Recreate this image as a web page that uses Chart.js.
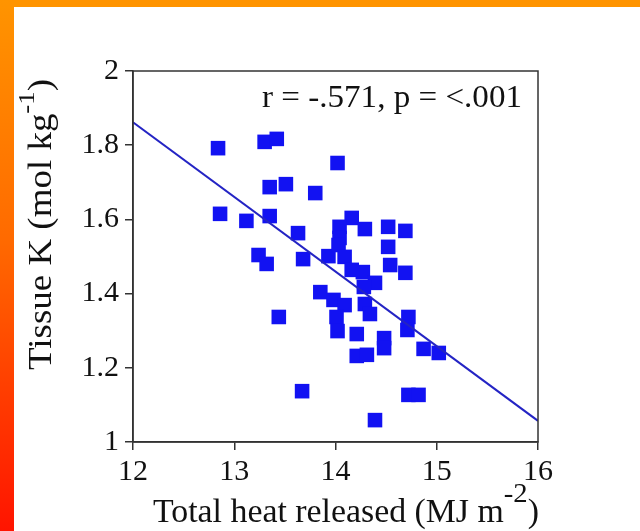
<!DOCTYPE html>
<html>
<head>
<meta charset="utf-8">
<script src="https://cdn.jsdelivr.net/npm/chart.js@4.4.1/dist/chart.umd.min.js"></script>
<style>
  html, body { margin: 0; padding: 0; background: #ffffff; }
  #wrap { position: relative; width: 640px; height: 531px; overflow: hidden; background: #ffffff; }
  #topbar { position: absolute; left: 0; top: 0; width: 640px; height: 7px; background: #FF9400; }
  #leftbar { position: absolute; left: 0; top: 0; width: 14px; height: 531px;
             background: linear-gradient(to bottom, #FF9400 0%, #FF6A00 45%, #FF1400 100%); }
  #c { position: absolute; left: 0; top: 0; }
</style>
</head>
<body>
<div id="wrap">
  <div id="topbar"></div>
  <div id="leftbar"></div>
  <canvas id="c" width="640" height="531"></canvas>
</div>
<script>
// ---- data ----
const heatReleased = [
  12.84, 12.86, 13.12, 13.24, 13.32, 13.30, 13.42, 13.35, 13.35, 13.51,
  13.44, 13.63, 13.68, 13.80, 13.85, 13.67, 14.02, 13.93, 14.16, 14.04,
  14.29, 14.52, 14.69, 14.04, 14.03, 14.09, 14.52, 14.16, 14.27, 14.54,
  14.69, 14.39, 14.28, 13.98, 14.09, 14.29, 14.01, 14.34, 14.72, 14.71,
  14.02, 14.21, 14.48, 14.48, 14.21, 14.31, 14.87, 15.02, 14.72, 14.82,
  14.39
];
const tissueK = [
  1.792, 1.615, 1.596, 1.504, 1.480, 1.809, 1.817, 1.609, 1.687, 1.695,
  1.337, 1.563, 1.493, 1.671, 1.404, 1.137, 1.752, 1.501, 1.604, 1.580,
  1.574, 1.580, 1.569, 1.550, 1.531, 1.499, 1.526, 1.464, 1.458, 1.477,
  1.456, 1.429, 1.418, 1.383, 1.369, 1.372, 1.337, 1.345, 1.337, 1.302,
  1.299, 1.291, 1.280, 1.253, 1.232, 1.235, 1.251, 1.240, 1.127, 1.127,
  1.059
];
const fitX = [12, 16];
const fitY = [1.862, 1.057];
const xTickLabels = ['12', '13', '14', '15', '16'];
const yTickLabels = ['1', '1.2', '1.4', '1.6', '1.8', '2'];
const statText = 'r = -.571, p = <.001';
const xTitleMain = 'Total heat released (MJ m';
const xTitleSup = '-2';
const yTitleMain = 'Tissue K (mol kg';
const yTitleSup = '-1';

const serif = '"Liberation Serif", "DejaVu Serif", serif';

const points = heatReleased.map((x, i) => ({ x: x, y: tissueK[i] }));
const fitLine = fitX.map((x, i) => ({ x: x, y: fitY[i] }));

const framePlugin = {
  id: 'frameAndText',
  afterDraw(chart) {
    const ctx = chart.ctx;
    const a = chart.chartArea;
    ctx.save();
    // frame box
    ctx.strokeStyle = '#333333';
    ctx.lineWidth = 1.5;
    ctx.strokeRect(a.left, a.top, a.right - a.left, a.bottom - a.top);

    ctx.fillStyle = '#111111';
    // statistic annotation
    ctx.save();
    ctx.font = '32px ' + serif;
    ctx.textAlign = 'left';
    ctx.textBaseline = 'alphabetic';
    ctx.translate(262, a.top + 36);
    const sw = ctx.measureText(statText).width;
    ctx.scale(260 / sw, 1);
    ctx.fillText(statText, 0, 0);
    ctx.restore();

    // x title with superscript
    ctx.save();
    ctx.textAlign = 'left';
    ctx.translate(153, 522);
    ctx.scale(1.025, 1);
    ctx.font = '33px ' + serif;
    ctx.fillText(xTitleMain, 0, 0);
    let w = ctx.measureText(xTitleMain).width;
    ctx.font = '28px ' + serif;
    ctx.fillText(xTitleSup, w, -20);
    let w2 = ctx.measureText(xTitleSup).width;
    ctx.font = '33px ' + serif;
    ctx.fillText(')', w + w2, 0);
    ctx.restore();

    // y title rotated with superscript
    ctx.save();
    ctx.textAlign = 'left';
    ctx.translate(51, 370);
    ctx.rotate(-Math.PI / 2);
    ctx.scale(1.12, 1);
    ctx.font = '33px ' + serif;
    ctx.fillText(yTitleMain, 0, 0);
    w = ctx.measureText(yTitleMain).width;
    ctx.font = '24px ' + serif;
    ctx.fillText(yTitleSup, w, -17);
    w2 = ctx.measureText(yTitleSup).width;
    ctx.font = '33px ' + serif;
    ctx.fillText(')', w + w2, 0);
    ctx.restore();
    ctx.restore();
  }
};

new Chart(document.getElementById('c'), {
  type: 'scatter',
  data: {
    datasets: [
      {
        label: 'Tissue K',
        data: points,
        pointStyle: 'rect',
        pointRadius: 10.3,
        pointHoverRadius: 10.3,
        backgroundColor: '#1212F2',
        borderColor: '#1212F2',
        borderWidth: 0,
        order: 2
      },
      {
        type: 'line',
        label: 'Fit',
        data: fitLine,
        borderColor: '#2424C4',
        borderWidth: 2,
        pointRadius: 0,
        fill: false,
        order: 1
      }
    ]
  },
  options: {
    responsive: false,
    animation: false,
    events: [],
    layout: { padding: { top: 71, right: 102, left: 0, bottom: 0 } },
    plugins: { legend: { display: false }, tooltip: { enabled: false } },
    scales: {
      x: {
        type: 'linear',
        min: 12, max: 16,
        afterFit(scale) { scale.height = 89; },
        border: { display: true, color: '#333333', width: 1.5 },
        grid: { display: true, drawOnChartArea: false, drawTicks: true, tickLength: 8, color: '#333333', lineWidth: 1.5 },
        ticks: {
          stepSize: 1,
          padding: 4,
          maxRotation: 0,
          color: '#111111',
          font: { family: serif, size: 30 },
          callback: (v) => xTickLabels[Math.round(v - 12)]
        }
      },
      y: {
        type: 'linear',
        min: 1, max: 2,
        afterFit(scale) { scale.width = 133; },
        border: { display: true, color: '#333333', width: 1.5 },
        grid: { display: true, drawOnChartArea: false, drawTicks: true, tickLength: 8, color: '#333333', lineWidth: 1.5 },
        ticks: {
          stepSize: 0.2,
          padding: 6,
          color: '#111111',
          font: { family: serif, size: 30 },
          callback: (v) => yTickLabels[Math.round((v - 1) / 0.2)]
        }
      }
    }
  },
  plugins: [framePlugin]
});
</script>
</body>
</html>
